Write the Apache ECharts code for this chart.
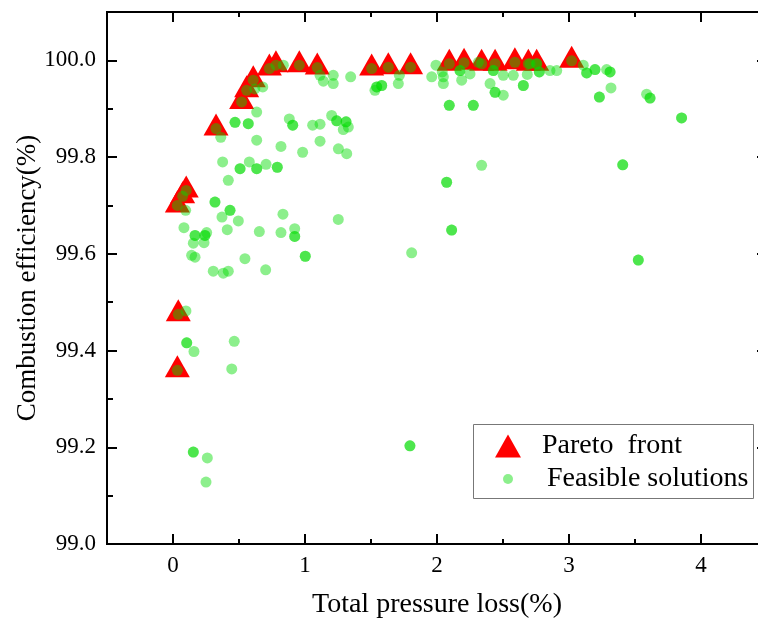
<!DOCTYPE html>
<html>
<head>
<meta charset="utf-8">
<script src="https://cdn.jsdelivr.net/npm/echarts@6/dist/echarts.min.js"></script>
<style>
  html, body { margin: 0; padding: 0; background: #fff; }
  #chart { width: 758px; height: 621px; }
</style>
</head>
<body>
<div id="chart"></div>
<script>
// Pareto-optimal designs: [total pressure loss %, combustion efficiency %]
const paretoFront = [
  [0.033, 99.359], [0.040, 99.475], [0.033, 99.700], [0.073, 99.719], [0.100, 99.731],
  [0.326, 99.859], [0.520, 99.914], [0.558, 99.938], [0.608, 99.959], [0.730, 99.983],
  [0.780, 99.990], [0.957, 99.990], [1.093, 99.985], [1.505, 99.983], [1.631, 99.986],
  [1.800, 99.986], [2.093, 99.993], [2.205, 99.995], [2.338, 99.993], [2.440, 99.993],
  [2.590, 99.996], [2.692, 99.993], [2.755, 99.993], [3.020, 99.999]
];

// Other feasible designs found during the search
const feasibleOthers = [
  [0.098, 99.482], [0.159, 99.398], [0.464, 99.419], [0.445, 99.362], [0.260, 99.178], [0.250, 99.128],
  [0.376, 99.790], [0.578, 99.790], [0.705, 99.785], [0.419, 99.752], [0.371, 99.676], [0.495, 99.668],
  [0.411, 99.650], [0.654, 99.646], [0.083, 99.654], [0.255, 99.644], [0.154, 99.622], [0.235, 99.623],
  [0.141, 99.597], [0.167, 99.593], [0.545, 99.590], [0.305, 99.564], [0.381, 99.560], [0.419, 99.564],
  [0.702, 99.567], [0.096, 99.690],
  [0.634, 99.893], [0.634, 99.835], [0.362, 99.841], [0.620, 99.941], [0.680, 99.945], [0.836, 99.990],
  [1.114, 99.969], [1.139, 99.957], [1.214, 99.969], [1.214, 99.952], [1.346, 99.966], [1.530, 99.938],
  [1.707, 99.952], [1.715, 99.969],
  [0.881, 99.879], [1.058, 99.866], [1.114, 99.868], [1.202, 99.886], [1.328, 99.862], [1.290, 99.857],
  [0.818, 99.822], [1.114, 99.833], [0.982, 99.810], [1.253, 99.817], [1.316, 99.807],
  [0.833, 99.682], [0.818, 99.644], [0.922, 99.652], [1.252, 99.671],
  [1.960, 99.966], [1.992, 99.990], [2.048, 99.952], [2.048, 99.966], [2.040, 99.976], [2.187, 99.959],
  [2.250, 99.972], [2.338, 99.783], [2.313, 99.996], [2.402, 99.952], [2.502, 99.928], [2.502, 99.969],
  [2.578, 99.969], [2.684, 99.971], [2.856, 99.979], [2.907, 99.979], [2.705, 99.993], [2.755, 99.993],
  [1.808, 99.602], [3.588, 99.930], [3.318, 99.943], [3.285, 99.981], [3.108, 99.990]
];

// Designs that were evaluated twice (they appear as denser dots)
const feasibleRepeated = [
  [0.104, 99.416], [0.154, 99.190], [0.508, 99.776], [0.634, 99.776], [0.318, 99.707], [0.432, 99.690],
  [0.167, 99.638], [0.242, 99.638], [0.470, 99.872], [0.570, 99.869], [0.790, 99.779], [0.907, 99.866],
  [1.240, 99.875], [1.311, 99.873], [0.922, 99.636], [1.002, 99.595], [1.543, 99.945], [1.581, 99.948],
  [2.093, 99.907], [2.174, 99.979], [2.275, 99.907], [2.073, 99.748], [2.440, 99.934], [2.427, 99.979],
  [2.654, 99.948], [2.775, 99.976], [2.111, 99.649], [3.407, 99.784], [3.525, 99.587], [3.853, 99.881],
  [3.614, 99.922], [3.230, 99.924], [3.311, 99.976], [3.197, 99.981], [3.134, 99.974], [1.795, 99.203]
];

const xMajorTicks = [0, 1, 2, 3, 4];
const xMinorTicks = [0.5, 1.5, 2.5, 3.5];
const yMajorTicks = [99.0, 99.2, 99.4, 99.6, 99.8, 100.0];
const yMinorTicks = [99.1, 99.3, 99.5, 99.7, 99.9];

const seriesNames = ['Pareto  front', 'Feasible solutions'];
const xTitle = 'Total pressure loss(%)';
const yTitle = 'Combustion efficiency(%)';

const FONT = "'Liberation Serif', 'Times New Roman', serif";
const BLACK = '#000';

const feasibleAll = paretoFront.concat(feasibleOthers, feasibleRepeated, feasibleRepeated);

function xAxisDef(pos, ticks, len, withLabel) {
  return {
    type: 'value', min: -0.5, max: 4.5, position: pos,
    axisLine: { show: true, onZero: false, lineStyle: { color: BLACK, width: 2 } },
    axisTick: { show: true, inside: true, length: len, customValues: ticks, lineStyle: { color: BLACK, width: 2 } },
    axisLabel: withLabel
      ? { show: true, customValues: ticks, fontFamily: FONT, fontSize: 23, color: BLACK, margin: 10 }
      : { show: false },
    splitLine: { show: false }
  };
}
function yAxisDef(pos, ticks, len, withLabel) {
  return {
    type: 'value', min: 99.0, max: 100.1, position: pos,
    axisLine: { show: true, onZero: false, lineStyle: { color: BLACK, width: 2 } },
    axisTick: { show: true, inside: true, length: len, customValues: ticks, lineStyle: { color: BLACK, width: 2 } },
    axisLabel: withLabel
      ? { show: true, customValues: ticks, formatter: v => v.toFixed(1), fontFamily: FONT, fontSize: 23, color: BLACK, margin: 11 }
      : { show: false },
    splitLine: { show: false }
  };
}

const xBottom = xAxisDef('bottom', xMajorTicks, 10, true);
Object.assign(xBottom, {
  name: xTitle, nameLocation: 'middle', nameGap: 47, nameMoveOverlap: false,
  nameTextStyle: { fontFamily: FONT, fontSize: 28, color: BLACK }
});

const yLeft = yAxisDef('left', yMajorTicks, 10, true);
Object.assign(yLeft, {
  name: yTitle, nameLocation: 'middle', nameGap: 66, nameMoveOverlap: false,
  nameTextStyle: { fontFamily: FONT, fontSize: 27, color: BLACK }
});

const chart = echarts.init(document.getElementById('chart'), null, { renderer: 'canvas' });
chart.setOption({
  animation: false,
  backgroundColor: '#fff',
  grid: { left: 107, top: 12, right: -9, bottom: 77, containLabel: false, outerBoundsMode: 'none' },
  xAxis: [
    xBottom,
    xAxisDef('bottom', xMinorTicks, 5, false),
    xAxisDef('top', xMajorTicks, 10, false),
    xAxisDef('top', xMinorTicks, 5, false)
  ],
  yAxis: [
    yLeft,
    yAxisDef('left', yMinorTicks, 6, false),
    yAxisDef('right', yMajorTicks, 10, false),
    yAxisDef('right', yMinorTicks, 6, false)
  ],
  graphic: [{
    type: 'rect', shape: { x: 473.5, y: 424.5, width: 280, height: 74 },
    style: { fill: 'none', stroke: '#777', lineWidth: 1 }, z: 10
  }],
  legend: [
    {
      data: [seriesNames[0]], left: 495, top: 432, padding: 0,
      itemWidth: 26, itemHeight: 23,
      textStyle: { fontFamily: FONT, fontSize: 28, color: BLACK, padding: [0, 0, 0, 16] }
    },
    {
      data: [seriesNames[1]], left: 503, top: 465, padding: 0,
      itemWidth: 10, itemHeight: 10,
      textStyle: { fontFamily: FONT, fontSize: 28, color: BLACK, padding: [0, 0, 0, 29] }
    }
  ],
  series: [
    {
      name: seriesNames[0], type: 'scatter', xAxisIndex: 0, yAxisIndex: 0,
      symbol: 'triangle', symbolSize: [25, 22], symbolOffset: [0, -4],
      itemStyle: { color: '#ff0000', opacity: 1 },
      data: paretoFront, z: 2
    },
    {
      name: seriesNames[1], type: 'scatter', xAxisIndex: 0, yAxisIndex: 0,
      symbol: 'circle', symbolSize: 11,
      itemStyle: { color: 'rgb(0,220,0)', opacity: 0.45 },
      data: feasibleAll, z: 3
    }
  ]
});
</script>
</body>
</html>
